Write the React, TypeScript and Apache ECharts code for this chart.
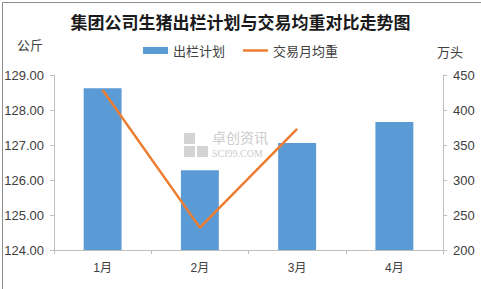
import React, { useEffect, useRef } from "react";
import * as echarts from "echarts";

const categories = ["1月", "2月", "3月", "4月"];
const planValues = [431, 314, 353, 383];
const weightValues: (number | null)[] = [128.57, 124.64, 127.46, null];
const leftTicks = { min: 124, max: 129, interval: 1 };
const rightTicks = { min: 200, max: 450, interval: 50 };

const FONT = "'Liberation Sans', 'Noto Sans CJK SC', sans-serif";
const CJK = "'Noto Sans CJK SC', sans-serif";

export default function App() {
  const ref = useRef<HTMLDivElement>(null);
  useEffect(() => {
    if (!ref.current) return;
    const chart = echarts.init(ref.current, undefined, { renderer: "svg" });
    chart.setOption({
      animation: false,
      backgroundColor: "#ffffff",
      textStyle: { fontFamily: FONT },
      title: {
        text: "集团公司生猪出栏计划与交易均重对比走势图",
        left: "center",
        top: 8,
        textStyle: { fontSize: 17, fontWeight: "bold", color: "#1a1a1a", fontFamily: CJK },
      },
      legend: {
        top: 39,
        left: "center",
        itemWidth: 25,
        itemHeight: 7,
        itemGap: 18,
        textStyle: { fontSize: 13, color: "#404040", fontFamily: CJK },
        data: [
          { name: "出栏计划", icon: "rect" },
          { name: "交易月均重", icon: "path://M0,0 L10,0 L10,1 L0,1 Z" },
        ],
      },
      grid: { left: 54, right: 38, top: 75, bottom: 39 },
      xAxis: {
        type: "category",
        data: categories,
        axisLine: { lineStyle: { color: "#bfbfbf" } },
        axisTick: { show: true, length: 4, lineStyle: { color: "#bfbfbf" } },
        axisLabel: { color: "#404040", fontSize: 12, margin: 12 },
      },
      yAxis: [
        {
          type: "value",
          min: leftTicks.min,
          max: leftTicks.max,
          interval: leftTicks.interval,
          position: "left",
          axisLine: { show: true, lineStyle: { color: "#bfbfbf" } },
          axisTick: { show: true, length: 4, lineStyle: { color: "#bfbfbf" } },
          splitLine: { show: false },
          axisLabel: {
            color: "#404040",
            fontSize: 13,
            margin: 10,
            formatter: (v: number) => v.toFixed(2),
          },
        },
        {
          type: "value",
          min: rightTicks.min,
          max: rightTicks.max,
          interval: rightTicks.interval,
          position: "right",
          axisLine: { show: true, lineStyle: { color: "#bfbfbf" } },
          axisTick: { show: true, length: 4, lineStyle: { color: "#bfbfbf" } },
          splitLine: { show: false },
          axisLabel: { color: "#404040", fontSize: 13, margin: 10 },
        },
      ],
      graphic: [
        {
          type: "rect",
          left: 0,
          top: 0,
          shape: { x: 0.5, y: 0.5, width: 480, height: 288 },
          style: { fill: "none", stroke: "#8c8c8c", lineWidth: 1 },
          silent: true,
          z: 100,
        },
        {
          type: "text",
          left: 17,
          top: 38,
          style: { text: "公斤", fontSize: 13, fill: "#404040", fontFamily: CJK },
        },
        {
          type: "text",
          left: 437,
          top: 45,
          style: { text: "万头", fontSize: 13, fill: "#404040", fontFamily: CJK },
        },
        {
          type: "text",
          left: 212,
          top: 130,
          z: -1,
          style: { text: "卓创资讯", fontSize: 14, lineHeight: 14, fill: "#cccccc", fontFamily: CJK },
        },
        {
          type: "text",
          left: 212,
          top: 148,
          z: -1,
          style: { text: "SCI99.COM", fontSize: 10, lineHeight: 10, fill: "#cccccc", fontFamily: "'Liberation Serif', serif" },
        },
        {
          type: "rect",
          left: 184,
          top: 133,
          z: -1,
          shape: { x: 0, y: 0, width: 11, height: 11 },
          style: { fill: "#d3d3d3" },
        },
        {
          type: "rect",
          left: 184,
          top: 146,
          z: -1,
          shape: { x: 0, y: 0, width: 11, height: 11 },
          style: { fill: "#d3d3d3" },
        },
        {
          type: "rect",
          left: 197,
          top: 146,
          z: -1,
          shape: { x: 0, y: 0, width: 11, height: 11 },
          style: { fill: "#d3d3d3" },
        },
      ],
      series: [
        {
          name: "出栏计划",
          type: "bar",
          yAxisIndex: 1,
          data: planValues,
          barWidth: "39%",
          itemStyle: { color: "#5b9bd5" },
        },
        {
          name: "交易月均重",
          type: "line",
          yAxisIndex: 0,
          data: weightValues,
          symbol: "none",
          lineStyle: { color: "#ed7d31", width: 2.5 },
          itemStyle: { color: "#ed7d31" },
        },
      ],
    });
    return () => chart.dispose();
  }, []);
  return (
    <div
      ref={ref}
      style={{ position: "fixed", left: 0, top: 0, width: 481, height: 289 }}
    />
  );
}
